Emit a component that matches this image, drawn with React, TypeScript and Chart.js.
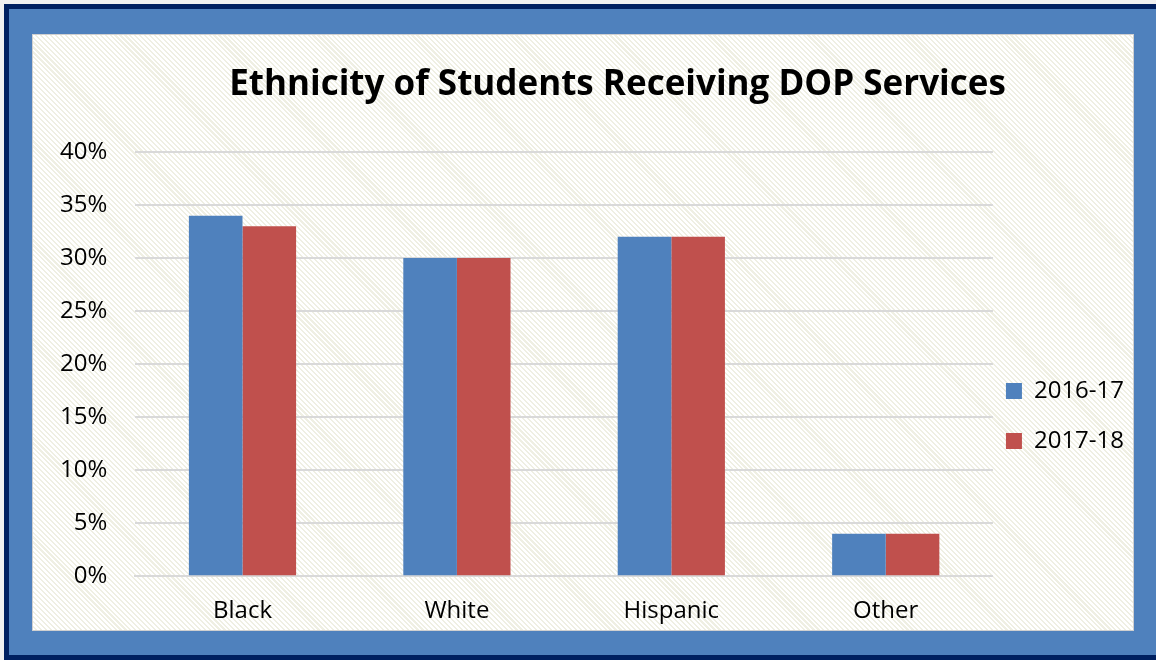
import React, { useEffect, useRef } from "react";
import { Chart, registerables } from "chart.js";

Chart.register(...registerables);

const titleText = "Ethnicity of Students Receiving DOP Services";
const categories = ["Black", "White", "Hispanic", "Other"];
const seriesLabels = ["2016-17", "2017-18"];
const values2016 = [34, 30, 32, 4];
const values2017 = [33, 30, 32, 4];
const yMin = 0;
const yMax = 40;
const yStep = 5;

const FONT = "'Open Sans', 'Noto Sans', sans-serif";

const nudgePlugin = {
  id: "nudge",
  afterLayout(chart: any) {
    const t = chart.titleBlock;
    if (t) {
      t.left += 28;
      t.right += 28;
    }
    const l = chart.legend;
    if (l) {
      l.left -= 13;
      l.right -= 13;
    }
  },
};

export default function App() {
  const ref = useRef<HTMLCanvasElement | null>(null);

  useEffect(() => {
    document.body.style.margin = "0";
    if (!ref.current) return;
    const chart = new Chart(ref.current, {
      type: "bar",
      data: {
        labels: categories,
        datasets: [
          {
            label: seriesLabels[0],
            data: values2016,
            backgroundColor: "#4f81bd",
            categoryPercentage: 0.5,
            barPercentage: 1,
          },
          {
            label: seriesLabels[1],
            data: values2017,
            backgroundColor: "#c0504d",
            categoryPercentage: 0.5,
            barPercentage: 1,
          },
        ],
      },
      plugins: [nudgePlugin],
      options: {
        animation: false,
        responsive: true,
        maintainAspectRatio: false,
        layout: { padding: { left: -1, right: -14, top: 0, bottom: -17 } },
        plugins: {
          title: {
            display: true,
            text: titleText,
            color: "#000",
            font: { family: FONT, size: 35, weight: "bold", lineHeight: 1.2 },
            padding: { top: 29, bottom: 46 },
          },
          legend: {
            position: "right",
            fullSize: false,
            title: {
              display: true,
              text: " ",
              font: { size: 10, lineHeight: 1 },
              padding: { top: 47, bottom: 47 },
            },
            labels: {
              boxWidth: 16,
              boxHeight: 16,
              padding: 26,
              color: "#000",
              font: { family: FONT, size: 24 },
            },
          },
          tooltip: { enabled: false },
        },
        scales: {
          x: {
            grid: { display: false, drawTicks: false },
            border: { display: true, color: "#d9d9d9", width: 2 },
            ticks: { color: "#000", font: { family: FONT, size: 24 }, padding: 21 },
          },
          y: {
            min: yMin,
            max: yMax,
            grid: { color: "#d9d9d9", lineWidth: 2, drawTicks: false },
            border: { display: false },
            ticks: {
              stepSize: yStep,
              color: "#000",
              padding: 28,
              font: { family: FONT, size: 24 },
              callback: (v: any) => v + "%",
            },
          },
        },
      },
    });
    return () => chart.destroy();
  }, []);

  return (
    <div style={{ position: "fixed", left: 0, top: 0, width: 1156, height: 660, background: "#f0f0f0", overflow: "hidden" }}>
      <div style={{ position: "absolute", left: 4, top: 4, width: 1200, height: 656, background: "#002060" }} />
      <div style={{ position: "absolute", left: 9, top: 9, width: 1200, height: 646, background: "#4f81bd" }} />
      <div
        style={{
          position: "absolute",
          left: 32,
          top: 34,
          width: 1100,
          height: 595,
          border: "1px solid #d0d0d0",
          background: "repeating-linear-gradient(45deg, #ffffff 0px, #ffffff 2px, #efefe3 2px, #efefe3 3.5px)",
        }}
      >
        <canvas ref={ref} />
      </div>
    </div>
  );
}
